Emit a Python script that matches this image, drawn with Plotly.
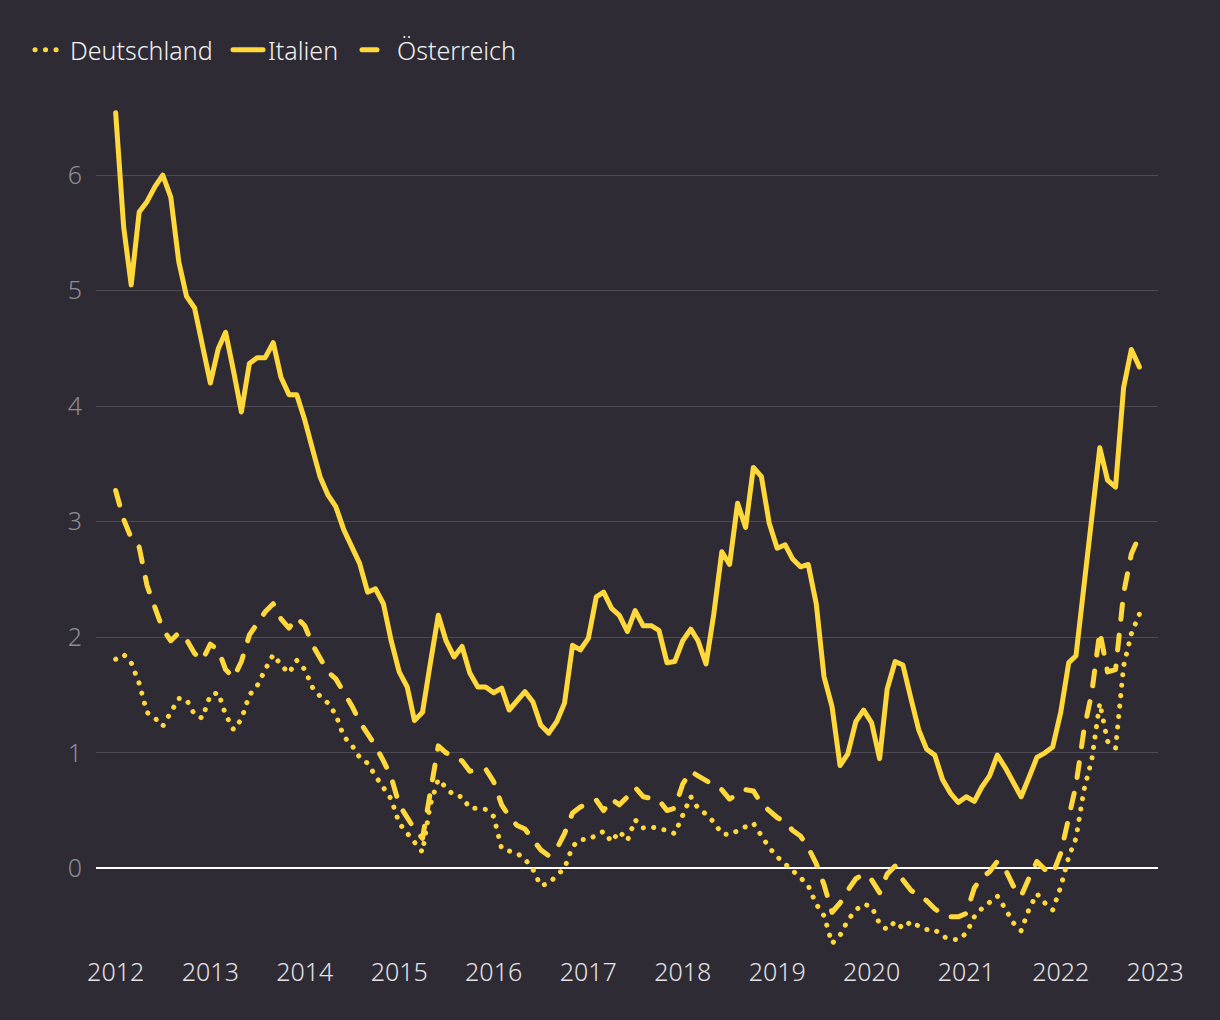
import pandas as pd
import plotly.graph_objects as go

# Monthly values, Jan 2012 .. Nov 2022
months = pd.date_range("2012-01-01", periods=131, freq="MS")

italien = [
    6.54, 5.55, 5.05, 5.68, 5.77, 5.90, 6.00, 5.81, 5.25, 4.95, 4.85, 4.53,
    4.20, 4.50, 4.64, 4.30, 3.95, 4.37, 4.42, 4.42, 4.55, 4.25, 4.10, 4.10,
    3.88, 3.62, 3.39, 3.23, 3.13, 2.93, 2.78, 2.64, 2.39, 2.42, 2.29, 1.97,
    1.70, 1.57, 1.28, 1.35, 1.77, 2.19, 1.97, 1.83, 1.92, 1.69, 1.57, 1.57,
    1.52, 1.56, 1.37, 1.45, 1.53, 1.44, 1.24, 1.17, 1.27, 1.43, 1.93, 1.89,
    1.99, 2.35, 2.39, 2.25, 2.19, 2.05, 2.23, 2.10, 2.10, 2.06, 1.78, 1.79,
    1.97, 2.07, 1.97, 1.77, 2.20, 2.74, 2.63, 3.16, 2.95, 3.47, 3.39, 2.99,
    2.77, 2.80, 2.68, 2.61, 2.63, 2.29, 1.66, 1.40, 0.89, 0.99, 1.27, 1.37,
    1.26, 0.95, 1.55, 1.79, 1.76, 1.47, 1.20, 1.03, 0.98, 0.77, 0.65, 0.57,
    0.62, 0.58, 0.70, 0.80, 0.98, 0.87, 0.75, 0.62, 0.79, 0.96, 1.00, 1.05,
    1.35, 1.78, 1.84, 2.45, 3.04, 3.64, 3.36, 3.30, 4.16, 4.49, 4.34,
]

oesterreich = [
    3.27, 3.02, 2.86, 2.78, 2.45, 2.24, 2.07, 1.97, 2.04, 1.98, 1.86, 1.80,
    1.94, 1.89, 1.72, 1.65, 1.79, 2.02, 2.12, 2.22, 2.29, 2.16, 2.08, 2.17,
    2.10, 1.93, 1.82, 1.70, 1.64, 1.53, 1.41, 1.27, 1.17, 1.06, 0.93, 0.79,
    0.55, 0.43, 0.34, 0.26, 0.66, 1.06, 1.00, 0.97, 0.93, 0.84, 0.85, 0.86,
    0.75, 0.55, 0.45, 0.37, 0.34, 0.24, 0.16, 0.11, 0.17, 0.30, 0.48, 0.53,
    0.57, 0.59, 0.50, 0.60, 0.55, 0.62, 0.70, 0.62, 0.60, 0.59, 0.50, 0.52,
    0.73, 0.84, 0.80, 0.76, 0.73, 0.68, 0.60, 0.64, 0.68, 0.67, 0.56, 0.50,
    0.44, 0.40, 0.33, 0.28, 0.18, 0.04, -0.14, -0.38, -0.30, -0.19, -0.09, -0.05,
    -0.10, -0.21, -0.05, 0.02, -0.10, -0.19, -0.24, -0.28, -0.35, -0.40, -0.42, -0.42,
    -0.39, -0.17, -0.08, -0.03, 0.06, -0.01, -0.15, -0.24, -0.08, 0.06, -0.01, -0.05,
    0.13, 0.46, 0.72, 1.20, 1.52, 2.05, 1.70, 1.72, 2.38, 2.72, 2.88,
]

deutschland = [
    1.81, 1.85, 1.78, 1.60, 1.35, 1.30, 1.23, 1.34, 1.47, 1.46, 1.33, 1.30,
    1.50, 1.52, 1.33, 1.20, 1.29, 1.50, 1.58, 1.72, 1.85, 1.76, 1.69, 1.80,
    1.72, 1.56, 1.49, 1.43, 1.33, 1.14, 1.07, 0.96, 0.91, 0.80, 0.70, 0.60,
    0.39, 0.30, 0.22, 0.14, 0.55, 0.77, 0.70, 0.63, 0.62, 0.52, 0.52, 0.51,
    0.45, 0.17, 0.15, 0.13, 0.08, -0.01, -0.15, -0.13, -0.06, 0.00, 0.19, 0.25,
    0.25, 0.29, 0.32, 0.23, 0.32, 0.24, 0.42, 0.35, 0.36, 0.34, 0.33, 0.30,
    0.45, 0.62, 0.52, 0.47, 0.40, 0.30, 0.29, 0.33, 0.36, 0.39, 0.29, 0.18,
    0.10, 0.04, -0.02, -0.08, -0.15, -0.31, -0.41, -0.65, -0.58, -0.45, -0.36, -0.31,
    -0.33, -0.48, -0.53, -0.46, -0.52, -0.46, -0.50, -0.53, -0.53, -0.59, -0.61, -0.62,
    -0.56, -0.42, -0.35, -0.29, -0.24, -0.35, -0.47, -0.54, -0.35, -0.22, -0.30, -0.36,
    -0.16, 0.10, 0.26, 0.68, 0.94, 1.43, 1.10, 1.04, 1.75, 2.03, 2.20,
]

y_ticks = [0, 1, 2, 3, 4, 5, 6]
x_tick_years = list(range(2012, 2024))

BG = "#2f2b34"
YELLOW = "#ffd83c"
FONT = "Noto Sans"
FS = 25

fig = go.Figure()
fig.add_trace(go.Scatter(x=months, y=deutschland, name="Deutschland", mode="lines",
                         legend="legend",
                         line=dict(color=YELLOW, width=5, dash="0.1px,10.4px")))
fig.add_trace(go.Scatter(x=months, y=italien, name="Italien", mode="lines",
                         legend="legend2",
                         line=dict(color=YELLOW, width=5)))
fig.add_trace(go.Scatter(x=months, y=oesterreich, name="Österreich", mode="lines",
                         legend="legend3",
                         line=dict(color=YELLOW, width=5, dash="15px,16px")))


def legend_at(px):
    return dict(orientation="h", xref="container", yref="container",
                x=px / 1220, y=1 - 50 / 1020, xanchor="left", yanchor="middle",
                font=dict(family=FONT, size=FS, color="#f2f2f2", weight=300),
                bgcolor="rgba(0,0,0,0)")


fig.update_layout(
    width=1220, height=1020,
    paper_bgcolor=BG, plot_bgcolor=BG,
    margin=dict(l=96, r=62, t=100, b=65, autoexpand=False),
    font=dict(family=FONT, size=FS, color="#f0f0f0", weight=300),
    showlegend=True,
    legend=legend_at(30),
    legend2=legend_at(228),
    legend3=legend_at(357),
    xaxis=dict(
        type="date",
        range=["2011-10-17", "2023-01-12"],
        tickvals=[f"{y}-01-01" for y in x_tick_years],
        ticktext=[str(y) for y in x_tick_years],
        showgrid=False, zeroline=False, showline=False, ticks="",
        tickfont=dict(family=FONT, size=FS, color="#e4e2e6", weight=300),
    ),
    yaxis=dict(
        range=[-0.75, 6.65],
        tickvals=y_ticks,
        ticktext=[str(v) for v in y_ticks],
        showgrid=True, gridcolor="#4e4a54", gridwidth=1.3,
        zeroline=True, zerolinecolor="#ffffff", zerolinewidth=2,
        showline=False, ticks="",
        tickfont=dict(family=FONT, size=FS, color="#8f8c94", weight=300),
        ticklabelstandoff=13,
    ),
)

post = """
document.documentElement.style.background = '%s';
document.body.style.margin = '0';
document.body.style.background = '%s';
var gd = document.getElementById('{plot_id}');
function roundCaps(){
  gd.querySelectorAll('path.js-line').forEach(function(p){
    p.style.strokeLinecap = 'round';
    p.style.strokeLinejoin = 'round';
  });
}
roundCaps();
gd.on('plotly_afterplot', roundCaps);
""" % (BG, BG)

fig.write_html("out.html", post_script=post, config={"displayModeBar": False})
